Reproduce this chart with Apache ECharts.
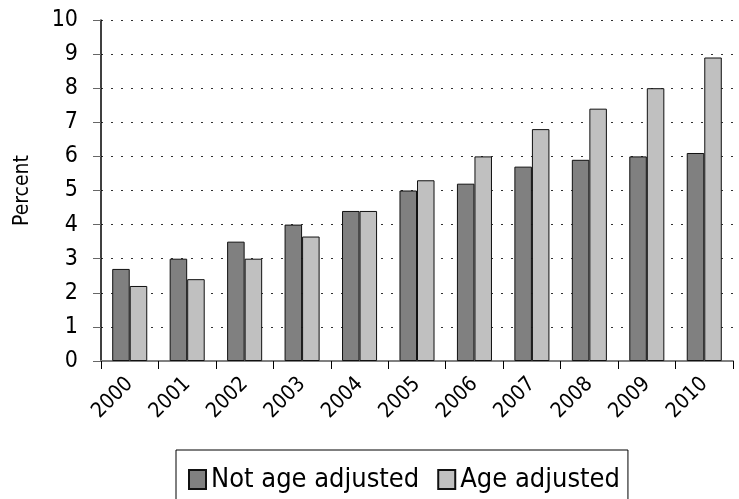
<!DOCTYPE html>
<html>
<head>
<meta charset="utf-8">
<script src="https://cdn.jsdelivr.net/npm/echarts@6/dist/echarts.min.js"></script>
<style>
html, body { margin: 0; padding: 0; background: #fff; }
#root { width: 739px; height: 499px; }
</style>
</head>
<body>
<div id="root"></div>
<script>
const years = ['2000', '2001', '2002', '2003', '2004', '2005', '2006', '2007', '2008', '2009', '2010'];
const notAgeAdjusted = [2.7, 3.0, 3.5, 4.0, 4.4, 5.0, 5.2, 5.7, 5.9, 6.0, 6.1];
const ageAdjusted = [2.2, 2.4, 3.0, 3.65, 4.4, 5.3, 6.0, 6.8, 7.4, 8.0, 8.9];

const font = "'Liberation Sans Narrow', 'DejaVu Sans Condensed', sans-serif";

let myChart = echarts.init(document.getElementById('root'));

let option = {
    animation: false,
    textStyle: { fontFamily: font },
    grid: { left: 101, right: 6, top: 20, bottom: 138 },
    legend: {
        top: 450,
        left: 176,
        padding: [16, 8, 20, 12],
        borderColor: '#000',
        borderWidth: 1,
        itemWidth: 17,
        itemHeight: 19,
        itemGap: 18,
        icon: 'rect',
        textStyle: { fontFamily: font, fontSize: 27, color: '#000' },
        data: ['Not age adjusted', 'Age adjusted']
    },
    xAxis: {
        type: 'category',
        data: years,
        axisLine: { lineStyle: { color: '#808080', width: 2 } },
        axisTick: { show: true, length: 8, lineStyle: { color: '#000' } },
        axisLabel: { rotate: 45, margin: 20, fontSize: 21, color: '#000', fontFamily: font }
    },
    yAxis: {
        type: 'value',
        min: 0,
        max: 10,
        interval: 1,
        name: 'Percent',
        nameLocation: 'middle',
        nameGap: 68,
        nameTextStyle: { fontSize: 21, color: '#000', fontFamily: font },
        axisLine: { show: true, lineStyle: { color: '#000', width: 1.5 } },
        axisTick: { show: true, length: 8, lineStyle: { color: '#666' } },
        axisLabel: { margin: 23, fontSize: 23, color: '#000', fontFamily: font },
        splitLine: { show: true, lineStyle: { color: '#333', type: [2, 8], width: 1 } }
    },
    series: [
        {
            name: 'Not age adjusted',
            type: 'bar',
            data: notAgeAdjusted,
            barGap: '0%',
            barCategoryGap: '39%',
            itemStyle: { color: '#808080', borderColor: '#111', borderWidth: 1 }
        },
        {
            name: 'Age adjusted',
            type: 'bar',
            data: ageAdjusted,
            itemStyle: { color: '#c0c0c0', borderColor: '#111', borderWidth: 1 }
        }
    ]
};
myChart.setOption(option);
</script>
</body>
</html>
